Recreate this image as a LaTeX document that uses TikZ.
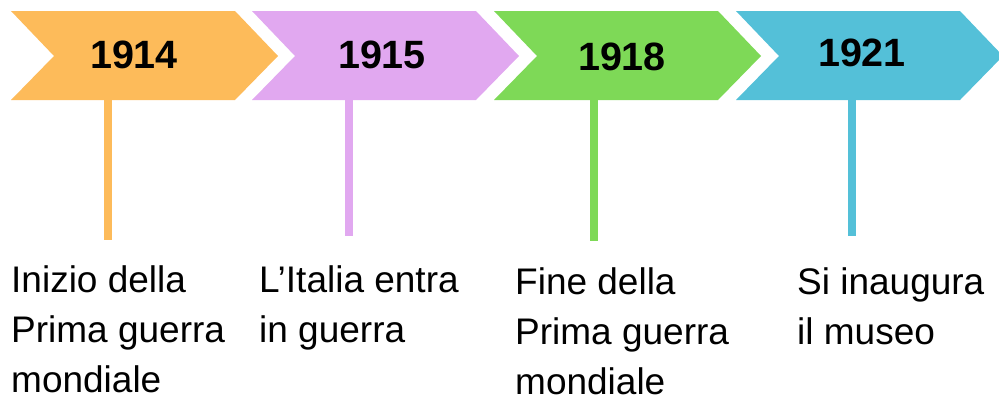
\documentclass[tikz,border=0pt]{standalone}
\usepackage{fontspec}
\setmainfont{Liberation Sans}
\definecolor{yorange}{RGB}{253,187,90}
\definecolor{ypurple}{RGB}{225,168,240}
\definecolor{ygreen}{RGB}{126,217,87}
\definecolor{yblue}{RGB}{84,192,216}
\tikzset{
    chevron/.style={fill=#1},
    year/.style={anchor=base, inner sep=0pt, font=\fontsize{39.5}{40}\selectfont\bfseries},
    event/.style={anchor=north west, inner sep=0pt, align=left, font=\fontsize{37}{50}\selectfont},
    stem/.style={draw=#1, line width=8pt}
}
\begin{document}
\begin{tikzpicture}[x=1pt, y=-1pt]
    \useasboundingbox (0,0) rectangle (999,399);
    \foreach \x/\c in {11/yorange, 252/ypurple, 494/ygreen, 736/yblue}
        \fill[chevron=\c] (\x,11) -- ++(224,0) -- ++(43,45) -- ++(-43,44)
            -- ++(-224,0) -- ++(43,-44) -- cycle;

    \node[year] (y1914) at (134,68) {1914};
    \node[year] (y1915) at (382,68) {1915};
    \node[year] (y1918) at (622,70) {1918};
    \node[year] (y1921) at (862,66) {1921};

    \node[event] (e1914) at (11,265) {Inizio della\\Prima guerra\\mondiale};
    \node[event] (e1915) at (259,265) {L’Italia entra\\in guerra};
    \node[event] (e1918) at (515,267) {Fine della\\Prima guerra\\mondiale};
    \node[event] (e1921) at (797,267) {Si inaugura\\il museo};

    \coordinate (s1914) at (108,100);
    \coordinate (t1914) at (108,240);
    \coordinate (s1915) at (349,100);
    \coordinate (t1915) at (349,236);
    \coordinate (s1918) at (594,100);
    \coordinate (t1918) at (594,241);
    \coordinate (s1921) at (852,100);
    \coordinate (t1921) at (852,236);

    \draw[stem=yorange] (s1914) -- (t1914);
    \draw[stem=ypurple] (s1915) -- (t1915);
    \draw[stem=ygreen] (s1918) -- (t1918);
    \draw[stem=yblue] (s1921) -- (t1921);
\end{tikzpicture}
\end{document}
